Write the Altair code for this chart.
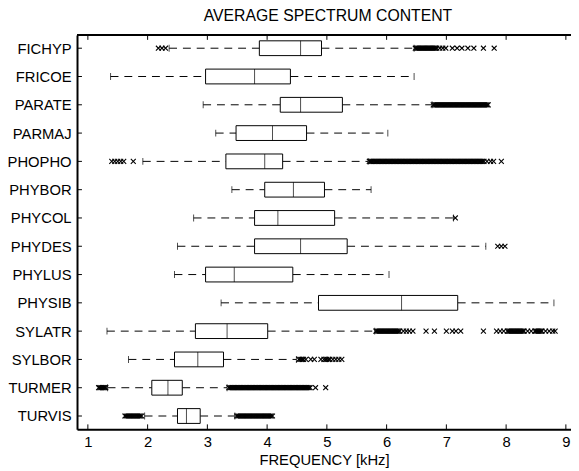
import altair as alt
import pandas as pd

categories = ["FICHYP", "FRICOE", "PARATE", "PARMAJ", "PHOPHO", "PHYBOR", "PHYCOL",
              "PHYDES", "PHYLUS", "PHYSIB", "SYLATR", "SYLBOR", "TURMER", "TURVIS"]
whisker_low = [2.36, 1.38, 2.93, 3.14, 1.92, 3.41, 2.77, 2.50, 2.45, 3.23, 1.32, 1.68, 1.33, 1.95]
q1 = [3.87, 2.97, 4.22, 3.48, 3.31, 3.96, 3.79, 3.79, 2.97, 4.86, 2.80, 2.45, 2.07, 2.50]
median = [4.56, 3.79, 4.56, 4.09, 3.96, 4.44, 4.18, 4.56, 3.45, 6.25, 3.33, 2.84, 2.34, 2.65]
q3 = [4.91, 4.39, 5.26, 4.66, 4.26, 4.96, 5.13, 5.34, 4.43, 7.19, 4.01, 3.27, 2.58, 2.88]
whisker_high = [6.46, 6.46, 6.76, 6.02, 5.69, 5.74, 7.12, 7.66, 6.04, 8.80, 5.80, 4.49, 3.33, 3.46]

outliers = {
    "FICHYP": [2.18, 2.24, 2.30,
               6.48, 6.50, 6.52, 6.54, 6.56, 6.58, 6.60, 6.62, 6.64, 6.66, 6.68, 6.70,
               6.72, 6.74, 6.76, 6.78, 6.80, 6.82, 6.84, 6.89, 6.94, 6.99,
               7.10, 7.18, 7.26, 7.36, 7.46, 7.62, 7.80],
    "FRICOE": [],
    "PARATE": [6.78, 6.80, 6.82, 6.84, 6.86, 6.88, 6.90, 6.92, 6.94, 6.96, 6.98, 7.00,
               7.02, 7.04, 7.06, 7.08, 7.10, 7.12, 7.14, 7.16, 7.18, 7.20, 7.22, 7.24,
               7.26, 7.28, 7.30, 7.32, 7.34, 7.36, 7.38, 7.40, 7.42, 7.44, 7.46, 7.48,
               7.50, 7.52, 7.54, 7.56, 7.58, 7.60, 7.62, 7.64, 7.66, 7.68, 7.70],
    "PARMAJ": [],
    "PHOPHO": [1.40, 1.45, 1.50, 1.55, 1.60, 1.76,
               5.71, 5.73, 5.75, 5.77, 5.79, 5.81, 5.83, 5.85, 5.87, 5.89, 5.91, 5.93,
               5.95, 5.97, 5.99, 6.01, 6.03, 6.05, 6.07, 6.09, 6.11, 6.13, 6.15, 6.17,
               6.19, 6.21, 6.23, 6.25, 6.27, 6.29, 6.31, 6.33, 6.35, 6.37, 6.39, 6.41,
               6.43, 6.45, 6.47, 6.49, 6.51, 6.53, 6.55, 6.57, 6.59, 6.61, 6.63, 6.65,
               6.67, 6.69, 6.71, 6.73, 6.75, 6.77, 6.79, 6.81, 6.83, 6.85, 6.87, 6.89,
               6.91, 6.93, 6.95, 6.97, 6.99, 7.01, 7.03, 7.05, 7.07, 7.09, 7.11, 7.13,
               7.15, 7.17, 7.19, 7.21, 7.23, 7.25, 7.27, 7.29, 7.31, 7.33, 7.35, 7.37,
               7.39, 7.41, 7.43, 7.45, 7.47, 7.49, 7.51, 7.53, 7.55, 7.57, 7.59, 7.61,
               7.63, 7.68, 7.74, 7.79, 7.92],
    "PHYBOR": [],
    "PHYCOL": [7.15],
    "PHYDES": [7.86, 7.92, 7.98],
    "PHYLUS": [],
    "PHYSIB": [],
    "SYLATR": [5.82, 5.84, 5.86, 5.88, 5.90, 5.92, 5.94, 5.96, 5.98, 6.00, 6.02, 6.04,
               6.06, 6.08, 6.10, 6.12, 6.14, 6.16, 6.18, 6.20, 6.22,
               6.28, 6.33, 6.38, 6.44, 6.66, 6.80, 7.00, 7.10, 7.16, 7.24, 7.62,
               7.84, 7.90, 7.96, 8.02, 8.04, 8.06, 8.08, 8.10, 8.12, 8.14, 8.16, 8.18,
               8.20, 8.22, 8.24, 8.26, 8.28, 8.30, 8.36, 8.42, 8.48, 8.50, 8.52, 8.54,
               8.56, 8.58, 8.60, 8.66, 8.72, 8.78, 8.82],
    "SYLBOR": [4.53, 4.55, 4.57, 4.59, 4.61, 4.65, 4.73, 4.79, 4.90, 4.95, 4.98, 5.00,
               5.03, 5.05, 5.10, 5.15, 5.20, 5.25],
    "TURMER": [1.18, 1.20, 1.22, 1.24, 1.26, 1.28, 1.30,
               3.36, 3.38, 3.40, 3.42, 3.44, 3.46, 3.48, 3.50, 3.52, 3.54, 3.56, 3.58,
               3.60, 3.62, 3.64, 3.66, 3.68, 3.70, 3.72, 3.74, 3.76, 3.78, 3.80, 3.82,
               3.84, 3.86, 3.88, 3.90, 3.92, 3.94, 3.96, 3.98, 4.00, 4.02, 4.04, 4.06,
               4.08, 4.10, 4.12, 4.14, 4.16, 4.18, 4.20, 4.22, 4.24, 4.26, 4.28, 4.30,
               4.32, 4.34, 4.36, 4.38, 4.40, 4.42, 4.44, 4.46, 4.48, 4.50, 4.52, 4.54,
               4.56, 4.58, 4.60, 4.62, 4.64, 4.66, 4.68, 4.70, 4.72, 4.81, 4.98],
    "TURVIS": [1.62, 1.64, 1.66, 1.68, 1.70, 1.72, 1.74, 1.76, 1.78, 1.80, 1.82, 1.84,
               1.86, 1.88, 1.90,
               3.49, 3.51, 3.53, 3.55, 3.57, 3.59, 3.61, 3.63, 3.65, 3.67, 3.69, 3.71,
               3.73, 3.75, 3.77, 3.79, 3.81, 3.83, 3.85, 3.87, 3.89, 3.91, 3.93, 3.95,
               3.97, 3.99, 4.01, 4.03, 4.05, 4.07, 4.09],
}
x_ticks = [1, 2, 3, 4, 5, 6, 7, 8, 9]

W, H = 501, 400
FONT = "Liberation Sans"

stats = pd.DataFrame({"cat": categories, "wlo": whisker_low, "q1": q1,
                      "med": median, "q3": q3, "whi": whisker_high})
out_df = pd.DataFrame([{"cat": c, "v": v} for c, vals in outliers.items() for v in vals])
tick_df = pd.DataFrame({"t": x_ticks})

xscale = alt.Scale(domain=[0.8185, 9.0858], nice=False, zero=False)
yscale = alt.Scale(type="point", padding=0.47)
Y = alt.Y("cat:N", sort=categories, scale=yscale,
          axis=alt.Axis(title=None, ticks=False, labelFontSize=15, labelFont=FONT,
                        labelColor="black", labelPadding=6, domainColor="black",
                        domainWidth=2))
X_axis = alt.Axis(title="FREQUENCY [kHz]", values=x_ticks, ticks=False, grid=False,
                  labelFontSize=15, labelFont=FONT, labelColor="black", labelPadding=5,
                  titleFontSize=15, titleFont=FONT, titleFontWeight="normal",
                  titleColor="black", titlePadding=4, domainColor="black", domainWidth=2,
                  format="d")

dash = [8, 6]
base = alt.Chart(stats)

whisk_lo = base.mark_rule(color="black", strokeWidth=1, strokeDash=dash).encode(
    x=alt.X("wlo:Q", scale=xscale, axis=X_axis), x2="q1:Q", y=Y)
whisk_hi = base.mark_rule(color="black", strokeWidth=1, strokeDash=dash).encode(
    x=alt.X("q3:Q", scale=xscale), x2="whi:Q", y=Y)
cap_lo = base.mark_tick(color="black", size=7, thickness=1, orient="vertical").encode(
    x=alt.X("wlo:Q", scale=xscale), y=Y)
cap_hi = base.mark_tick(color="black", size=7, thickness=1, orient="vertical").encode(
    x=alt.X("whi:Q", scale=xscale), y=Y)
box = base.mark_bar(size=15, fill="white", stroke="black", strokeWidth=1).encode(
    x=alt.X("q1:Q", scale=xscale), x2="q3:Q", y=Y)
med = base.mark_tick(color="black", size=15, thickness=1, orient="vertical").encode(
    x=alt.X("med:Q", scale=xscale), y=Y)
pts = alt.Chart(out_df).mark_point(
    shape="M-1,-1L1,1M-1,1L1,-1", size=25, strokeWidth=1.1, color="black", filled=False,
    opacity=1).encode(x=alt.X("v:Q", scale=xscale), y=Y)

ytick = alt.Chart(stats).mark_rule(color="black", strokeWidth=1).encode(
    y=Y, x=alt.value(0), x2=alt.value(5))
xtick_bot = alt.Chart(tick_df).mark_rule(color="black", strokeWidth=1).encode(
    x=alt.X("t:Q", scale=xscale), y=alt.value(H), y2=alt.value(H - 5))
xtick_top = alt.Chart(tick_df).mark_rule(color="black", strokeWidth=1).encode(
    x=alt.X("t:Q", scale=xscale), y=alt.value(0), y2=alt.value(5))
top_line = alt.Chart(tick_df).mark_rule(color="black", strokeWidth=1.5).encode(
    x=alt.value(0), x2=alt.value(W), y=alt.value(0))

chart = alt.layer(whisk_lo, whisk_hi, cap_lo, cap_hi, box, med, pts,
                  ytick, xtick_bot, xtick_top, top_line).properties(
    width=W, height=H,
    title=alt.TitleParams("AVERAGE SPECTRUM CONTENT", fontSize=16, font=FONT,
                          fontWeight="normal", color="black", anchor="middle",
                          offset=10, dx=4),
    autosize=alt.AutoSizeParams(type="none"),
    padding={"left": 70, "top": 24, "right": 0, "bottom": 40},
).configure_view(stroke=None).configure(background="white")

chart.save("out.html", embed_options={"renderer": "svg", "actions": False})
